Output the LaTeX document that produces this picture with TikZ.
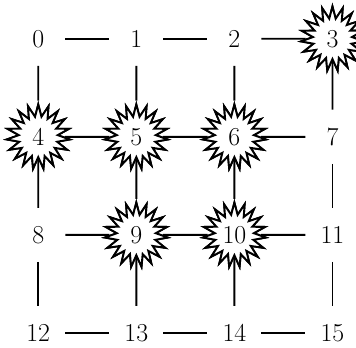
\documentclass[tikz,border=0pt]{standalone}
\usetikzlibrary{shapes.symbols}
\newcommand{\lbl}[1]{\makebox[16pt]{\rule[-3.3pt]{0pt}{16.6pt}#1}}
\begin{document}
\begin{tikzpicture}[
  v/.style={circle, minimum size=31pt, inner sep=0pt, font=\fontsize{15}{18}\selectfont},
  hit/.style={starburst, random starburst=0, starburst points=19, starburst point height=7pt,
              inner sep=0pt, draw, fill=white, line width=1.1pt, font=\fontsize{15}{18}\selectfont},
  e/.style={line width=1.1pt}
]
\useasboundingbox (-0.78,0.79) rectangle (6.48,-6.29);
\foreach \i in {0,...,15} {
  \pgfmathtruncatemacro\c{mod(\i,4)}
  \pgfmathtruncatemacro\r{div(\i,4)}
  \coordinate (p\i) at (2*\c,-2*\r);
}
\foreach \i in {0,1,2,7,8,11,12,13,14,15} { \node[v] (n\i) at (p\i) {\i}; }
\foreach \i in {3,4,5,6,9,10} { \node[hit] (n\i) at (p\i) {\lbl{\i}}; }
\foreach \a/\b in {0/1,1/2,2/3,4/5,5/6,6/7,8/9,9/10,10/11,12/13,13/14,14/15,
                   0/4,4/8,8/12,1/5,5/9,9/13,2/6,6/10,10/14,3/7,7/11,11/15}
  \draw[e] (n\a) -- (n\b);
\foreach \i in {3,4,5,6,9,10} { \node[hit] (h\i) at (p\i) {\lbl{\i}}; }
\end{tikzpicture}
\end{document}
